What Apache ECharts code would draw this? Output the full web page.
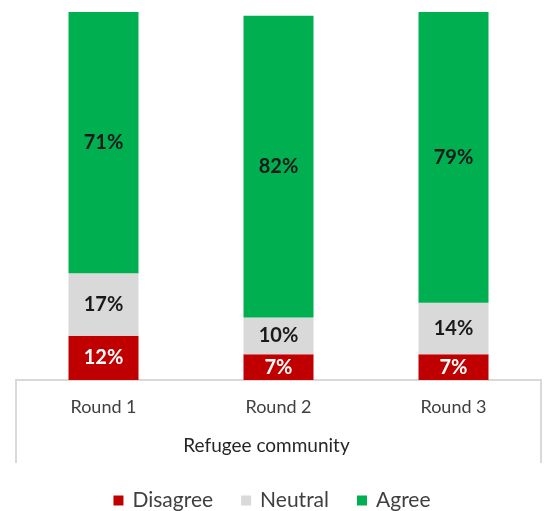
<!DOCTYPE html>
<html>
<head>
<meta charset="utf-8">
<script src="https://cdn.jsdelivr.net/npm/echarts@6/dist/echarts.min.js"></script>
<style>
  html, body { margin: 0; padding: 0; background: #fff; }
  #chart { width: 544px; height: 511px; }
</style>
</head>
<body>
<div id="chart"></div>
<script>
// Share of responses per survey round (percent)
const rounds = ['Round 1', 'Round 2', 'Round 3'];
const groupLabel = ['Refugee community'];
const disagree = [12, 7, 7];
const neutral = [17, 10, 14];
const agree = [71, 82, 79];

const FONT = 'Lato';
const chart = echarts.init(document.getElementById('chart'), null, { renderer: 'canvas' });

function barSeries(name, values, color, labelColor) {
  return {
    name: name,
    type: 'bar',
    stack: 'total',
    xAxisIndex: 0,
    barWidth: '40%',
    data: values,
    itemStyle: { color: color },
    label: {
      show: true,
      position: 'inside',
      formatter: '{c}%',
      color: labelColor,
      fontFamily: FONT,
      fontWeight: 'bold',
      fontSize: 20
    },
    emphasis: { disabled: true }
  };
}

chart.setOption({
  animation: false,
  grid: { left: 16, right: 3, top: 12, bottom: 131, containLabel: false },
  legend: {
    top: 485,
    left: 'center',
    itemWidth: 10,
    itemHeight: 10,
    itemGap: 28,
    icon: 'rect',
    textStyle: { fontFamily: FONT, fontSize: 21, color: '#404040', padding: [0, 0, 0, 4] },
    data: ['Disagree', 'Neutral', 'Agree']
  },
  xAxis: [
    {
      type: 'category',
      data: rounds,
      position: 'bottom',
      axisLine: { show: true, lineStyle: { color: '#d9d9d9', width: 2 } },
      axisTick: { show: false },
      axisLabel: { fontFamily: FONT, fontSize: 18, color: '#404040', margin: 18 }
    },
    {
      type: 'category',
      data: groupLabel,
      position: 'bottom',
      axisLine: { show: true, lineStyle: { color: '#d9d9d9', width: 2 } },
      axisTick: { show: true, length: 83, alignWithLabel: false, lineStyle: { color: '#d9d9d9', width: 2 } },
      axisLabel: { fontFamily: FONT, fontSize: 19, color: '#262626', margin: 56, padding: [0, 24, 0, 0] }
    }
  ],
  yAxis: {
    type: 'value',
    min: 0,
    max: 100,
    show: false,
    splitLine: { show: false }
  },
  series: [
    barSeries('Disagree', disagree, '#C00000', '#ffffff'),
    barSeries('Neutral', neutral, '#D9D9D9', '#1a1a1a'),
    barSeries('Agree', agree, '#00B050', '#1a1a1a')
  ]
});
</script>
</body>
</html>
